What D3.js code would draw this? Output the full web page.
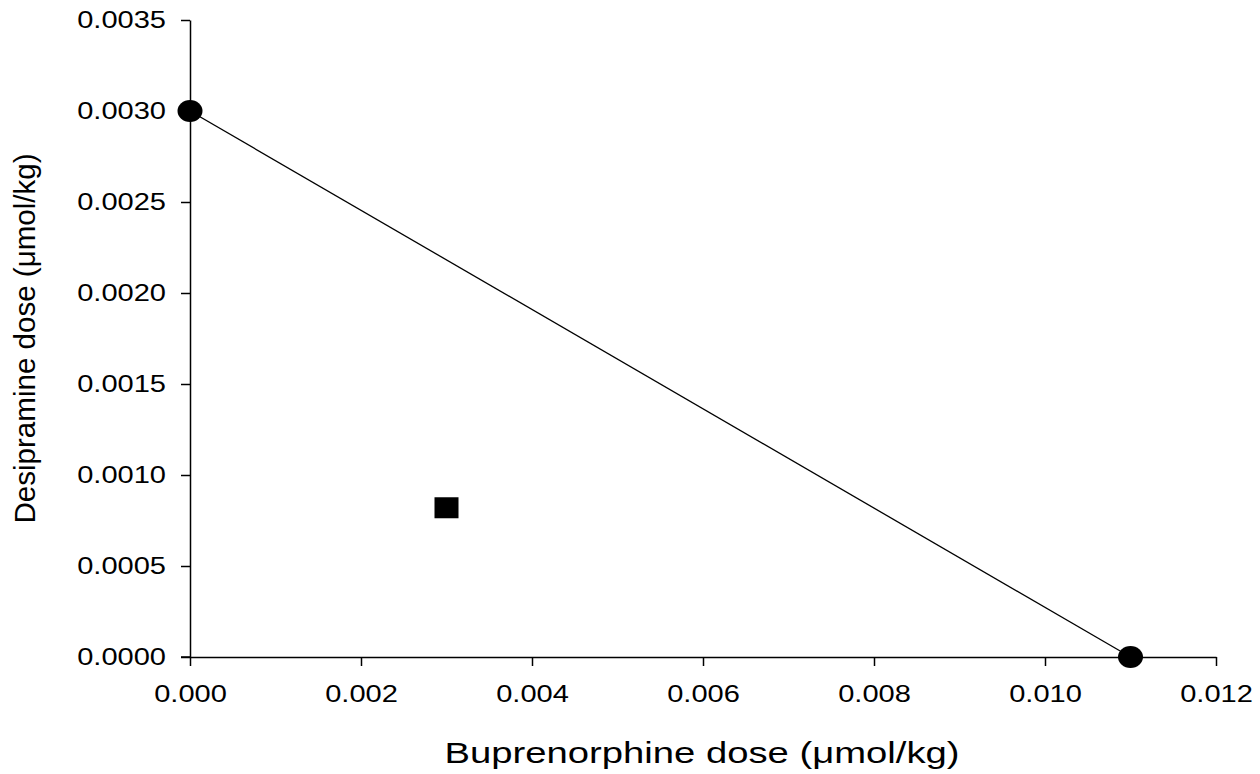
<!DOCTYPE html>
<head>
  <meta charset="utf-8">
  <title>Isobologram</title>
  <style>
  body { margin: 0; background: #fff; }
  text { font-family: "Liberation Sans", Arial, sans-serif; fill: #000; }
  .axis path, .axis line { stroke: #000; stroke-width: 1.5; }
  .axis text { font-size: 24px; }
  </style>
</head>

<svg id="chart"></svg>

<script src="https://cdnjs.cloudflare.com/ajax/libs/d3/7.8.5/d3.min.js"></script>

<script>
"use strict";

// single agent doses (circles) and the combination (square)
var singleX = [0, 0.011];
var singleY = [0.0030, 0];
var comboX = [0.003];
var comboY = [0.00082];
var xTicks = [0, 0.002, 0.004, 0.006, 0.008, 0.010, 0.012];
var yTicks = [0, 0.0005, 0.0010, 0.0015, 0.0020, 0.0025, 0.0030, 0.0035];

var totalWidth = 1260,
    totalHeight = 774;

var svg = d3.select("#chart")
    .attr("width", totalWidth)
    .attr("height", totalHeight);

var margin = {top: 20, right: 44, bottom: 117, left: 190},
  width = totalWidth - margin.left - margin.right,
  height = totalHeight - margin.top - margin.bottom;

var g = svg.append("g")
  .attr("transform", "translate(" + margin.left + "," + margin.top + ")");

var x = d3.scaleLinear().domain([0, 0.012]).range([0, width]);
var y = d3.scaleLinear().domain([0, 0.0035]).range([height, 0]);

// the original text is a bit wider than the font draws it
function stretch(sel, k) {
  sel.each(function() {
    var len = this.getComputedTextLength();
    d3.select(this).attr("textLength", len * k).attr("lengthAdjust", "spacingAndGlyphs");
  });
}

var xAxis = g.append("g")
    .attr("class", "axis axis--x")
    .attr("transform", "translate(0," + height + ")")
    .call(d3.axisBottom(x).tickValues(xTicks).tickFormat(d3.format(".3f"))
      .tickSize(9).tickSizeOuter(0).tickPadding(19));

var yAxis = g.append("g")
    .attr("class", "axis axis--y")
    .call(d3.axisLeft(y).tickValues(yTicks).tickFormat(d3.format(".4f"))
      .tickSize(9).tickSizeOuter(0).tickPadding(15));

xAxis.selectAll("text").call(stretch, 1.21);
yAxis.selectAll("text").call(stretch, 1.21);

// x axis line also runs left under the y ticks
g.append("line")
    .attr("x1", -9).attr("x2", 0)
    .attr("y1", height).attr("y2", height)
    .attr("stroke", "#000").attr("stroke-width", 1.5);

// line of additivity
var pts = singleX.map(function(d, i) { return [d, singleY[i]]; });
g.append("path")
    .datum(pts)
    .attr("fill", "none")
    .attr("stroke", "#000")
    .attr("stroke-width", 1.3)
    .attr("d", d3.line().x(function(d) { return x(d[0]); }).y(function(d) { return y(d[1]); }));

g.selectAll(".single")
    .data(pts)
  .enter().append("ellipse")
    .attr("class", "single")
    .attr("cx", function(d) { return x(d[0]); })
    .attr("cy", function(d) { return y(d[1]); })
    .attr("rx", 12.5)
    .attr("ry", 11)
    .attr("fill", "#000");

g.selectAll(".combo")
    .data(comboX.map(function(d, i) { return [d, comboY[i]]; }))
  .enter().append("rect")
    .attr("class", "combo")
    .attr("x", function(d) { return x(d[0]) - 12; })
    .attr("y", function(d) { return y(d[1]) - 10.5; })
    .attr("width", 24)
    .attr("height", 21)
    .attr("fill", "#000");

// axis titles
svg.append("text")
    .attr("x", 702)
    .attr("y", 763)
    .attr("text-anchor", "middle")
    .attr("font-size", 30)
    .attr("textLength", 515)
    .attr("lengthAdjust", "spacingAndGlyphs")
    .text("Buprenorphine dose (\u03bcmol/kg)");

svg.append("text")
    .attr("transform", "translate(35," + (margin.top + height / 2) + ") rotate(-90)")
    .attr("text-anchor", "middle")
    .attr("font-size", 30)
    .attr("textLength", 370)
    .attr("lengthAdjust", "spacingAndGlyphs")
    .text("Desipramine dose (\u03bcmol/kg)");
</script>
